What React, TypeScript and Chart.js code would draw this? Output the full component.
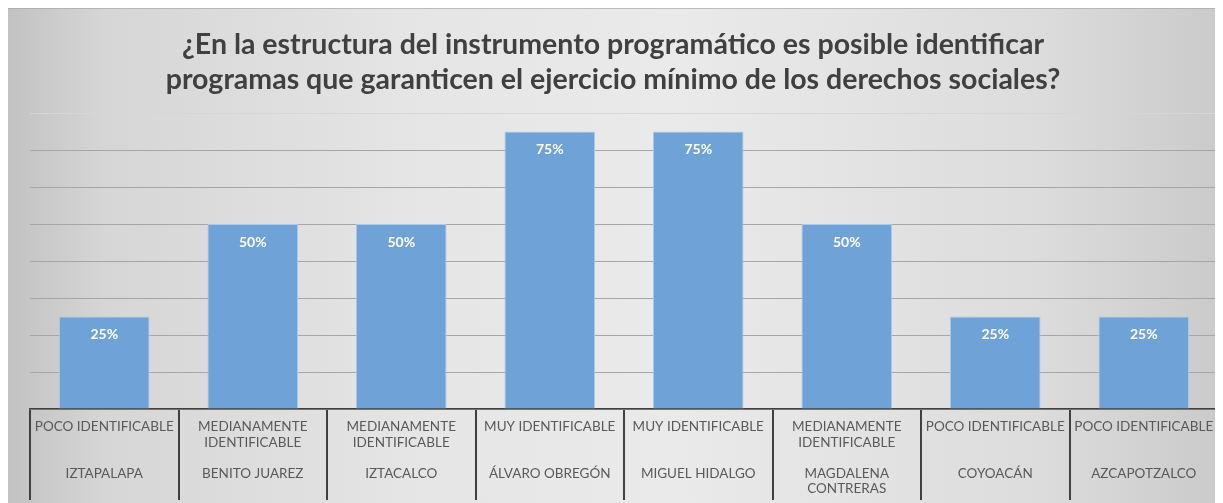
import React, { useEffect, useRef } from "react";
import { Chart, registerables } from "chart.js";

Chart.register(...registerables);

const titleLines = [
  "¿En la estructura del instrumento programático es posible identificar",
  "programas que garanticen el ejercicio mínimo de los derechos sociales?",
];

const levels: string[][] = [
  ["POCO IDENTIFICABLE"],
  ["MEDIANAMENTE", "IDENTIFICABLE"],
  ["MEDIANAMENTE", "IDENTIFICABLE"],
  ["MUY IDENTIFICABLE"],
  ["MUY IDENTIFICABLE"],
  ["MEDIANAMENTE", "IDENTIFICABLE"],
  ["POCO IDENTIFICABLE"],
  ["POCO IDENTIFICABLE"],
];

const districts: string[][] = [
  ["IZTAPALAPA"],
  ["BENITO JUAREZ"],
  ["IZTACALCO"],
  ["ÁLVARO OBREGÓN"],
  ["MIGUEL HIDALGO"],
  ["MAGDALENA", "CONTRERAS"],
  ["COYOACÁN"],
  ["AZCAPOTZALCO"],
];

const values = [25, 50, 50, 75, 75, 50, 25, 25];

const yMax = 80;
const yStep = 10;

const FONT = "Lato, 'Open Sans', 'Noto Sans', sans-serif";

// each label: level row (2 lines), gap line, district row (2 lines), then spacer lines
function buildLabels(): string[][] {
  return levels.map((lv, i) => {
    const a = [...lv];
    while (a.length < 2) a.push("");
    a.push("");
    const d = [...districts[i]];
    while (d.length < 2) d.push("");
    const out = [...a, ...d];
    while (out.length < 11) out.push("");
    return out;
  });
}

const backgroundPlugin = {
  id: "bgGradient",
  beforeDraw(chart: any) {
    const { ctx, width, height } = chart;
    ctx.save();
    const g = ctx.createLinearGradient(0, 0, width, 0);
    g.addColorStop(0, "#c2c2c2");
    g.addColorStop(0.08, "#d6d6d6");
    g.addColorStop(0.35, "#e6e6e6");
    g.addColorStop(0.55, "#eaeaea");
    g.addColorStop(0.85, "#dcdcdc");
    g.addColorStop(1, "#cacaca");
    ctx.fillStyle = g;
    ctx.fillRect(0, 0, width, height);
    ctx.fillStyle = "rgba(160,160,160,0.6)";
    ctx.fillRect(0, 0, width, 1);
    ctx.restore();
  },
};

const valueLabelPlugin = {
  id: "valueLabels",
  afterDatasetsDraw(chart: any) {
    const { ctx } = chart;
    const meta = chart.getDatasetMeta(0);
    const data = chart.data.datasets[0].data;
    ctx.save();
    ctx.fillStyle = "#ffffff";
    ctx.font = `bold 14px ${FONT}`;
    ctx.textAlign = "center";
    ctx.textBaseline = "middle";
    meta.data.forEach((bar: any, i: number) => {
      ctx.fillText(`${data[i]}%`, bar.x, bar.y + 18);
    });
    ctx.restore();
  },
};

export default function App() {
  const ref = useRef<HTMLCanvasElement | null>(null);

  useEffect(() => {
    document.documentElement.style.overflow = "hidden";
    document.body.style.overflow = "hidden";
    if (!ref.current) return;
    const chart = new Chart(ref.current, {
      type: "bar",
      data: {
        labels: buildLabels(),
        datasets: [
          {
            data: values,
            backgroundColor: "#6fa3d8",
            borderColor: "#a9c8ea",
            borderWidth: 1,
            barPercentage: 0.61,
            categoryPercentage: 1,
          },
        ],
      },
      plugins: [backgroundPlugin, valueLabelPlugin],
      options: {
        responsive: false,
        animation: false,
        layout: { padding: { left: 0, right: 5, top: 0, bottom: 0 } },
        plugins: {
          legend: { display: false },
          tooltip: { enabled: false },
          title: {
            display: true,
            text: titleLines,
            color: "#404040",
            font: { family: FONT, size: 28.5, weight: "bold", lineHeight: "35px" },
            padding: { top: 19.5, bottom: 15.5 },
          },
        },
        scales: {
          x: {
            offset: true,
            grid: {
              offset: true,
              drawOnChartArea: false,
              drawTicks: true,
              tickLength: 91,
              color: "#404040",
              lineWidth: 2,
            },
            border: { display: true, color: "#404040", width: 1.5 },
            ticks: {
              autoSkip: false,
              maxRotation: 0,
              minRotation: 0,
              padding: -80.75,
              color: "#595959",
              font: { family: FONT, size: 13.5, lineHeight: "15.5px" },
            },
          },
          y: {
            min: 0,
            max: yMax,
            ticks: { display: false, stepSize: yStep },
            border: { display: false },
            grid: {
              drawTicks: true,
              tickLength: 22,
              tickColor: "rgba(0,0,0,0)",
              color: (c: any) => (c.tick && c.tick.value === yMax ? "#d6d6d6" : "#a6a6a6"),
              lineWidth: 1,
            },
          },
        },
      },
    });
    return () => chart.destroy();
  }, []);

  return (
    <div style={{ width: 1215, height: 501 }}>
      <canvas ref={ref} width={1215} height={501} style={{ display: "block" }} />
    </div>
  );
}
